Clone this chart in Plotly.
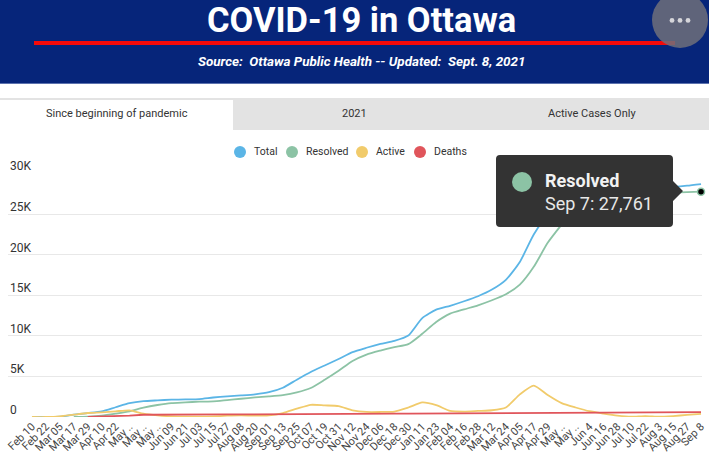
"""COVID-19 in Ottawa: cumulative cases line chart, redrawn with plotly."""
import plotly.graph_objects as go

WIDTH = 709
HEIGHT = 454

tick_labels = ['Feb 10', 'Feb 22', 'Mar 05', 'Mar 17', 'Mar 29', 'Apr 10', 'Apr 22',
               'May ..', 'May ..', 'May ..', 'Jun 09', 'Jun 21', 'Jul 03', 'Jul 15',
               'Jul 27', 'Aug 08', 'Aug 20', 'Sep 01', 'Sep 13', 'Sep 25', 'Oct 07',
               'Oct 19', 'Oct 31', 'Nov 12', 'Nov 24', 'Dec 06', 'Dec 18', 'Dec 30',
               'Jan 11', 'Jan 23', 'Feb 04', 'Feb 16', 'Feb 28', 'Mar 12', 'Mar 24',
               'Apr 05', 'Apr 17', 'Apr 29', 'May ..', 'May ..', 'Jun 4', 'Jun 16',
               'Jun 28', 'Jul 10', 'Jul 22', 'Aug 3', 'Aug 15', 'Aug 27', 'Sep 8']

total = [0, 0, 40, 290, 490, 700, 1200, 1700, 1950, 2050, 2130, 2170, 2210, 2400, 2540,
         2660, 2800, 3050, 3600, 4600, 5550, 6350, 7150, 8000, 8530, 9000, 9380, 10040,
         12190, 13220, 13700, 14260, 14880, 15700, 16900, 19100, 22480, 24900, 26300,
         27200, 27650, 27850, 27950, 28050, 28150, 28250, 28350, 28500, 28700]
resolved = [None, None, None, 0, 40, 160, 410, 700, 1150, 1480, 1720, 1800, 1890, 1930,
            2090, 2250, 2420, 2540, 2700, 3030, 3570, 4590, 5700, 6900, 7690, 8180, 8600,
            8970, 10250, 11700, 12730, 13260, 13760, 14380, 15120, 16300, 18500, 21460,
            23700, 25800, 26900, 27200, 27350, 27450, 27520, 27580, 27640, 27700, 27761]
active = [0, 0, 80, 290, 490, 570, 700, 820, 410, 200, 80, 40, 40, 80, 160, 200, 160, 200,
          490, 1020, 1500, 1430, 1350, 830, 620, 620, 670, 1170, 1790, 1460, 750, 670, 750,
          830, 1170, 2790, 3875, 2710, 1710, 1170, 710, 420, 170, 40, 120, 40, 120, 250, 375]
deaths = [None, None, None, None, 0, 40, 120, 180, 280, 300, 300, 310, 310, 310, 320, 320,
          320, 330, 330, 330, 340, 340, 350, 390, 400, 410, 410, 420, 430, 440, 450, 470,
          480, 490, 500, 500, 510, 540, 580, 580, 590, 590, 590, 590, 590, 590, 590, 590, 590]

series_names = ['Total', 'Resolved', 'Active', 'Deaths']
series_colors = ['#5BB5E6', '#8CC3A5', '#F1CB6B', '#E0555B']
series_values = [total, resolved, active, deaths]
y_ticks = [0, 5000, 10000, 15000, 20000, 25000, 30000]
y_tick_labels = ['0', '5K', '10K', '15K', '20K', '25K', '30K']
tab_labels = ['Since beginning of pandemic', '2021', 'Active Cases Only']


def px_x(x):
    return x / WIDTH


def px_y(y):
    return 1 - y / HEIGHT


def box(x0, y0, x1, y1, color, kind='rect'):
    """A shape given in page pixels, measured from the top left"""
    return dict(type=kind, xref='paper', yref='paper', x0=px_x(x0), x1=px_x(x1),
                y0=px_y(y0), y1=px_y(y1), fillcolor=color, line_width=0, layer='above')


def label(x, y, text, size, color='#333333', anchor='center', family='Roboto'):
    return dict(xref='paper', yref='paper', x=px_x(x), y=px_y(y), text=text, showarrow=False,
                xanchor=anchor, yanchor='middle', font=dict(family=family, size=size, color=color))


def tooltip_path(x0, y0, x1, y1, r, tip_x, tip_y):
    points = [(x0 + r, y0), (x1 - r, y0), ('Q', x1, y0, x1, y0 + r), (x1, tip_y - 10),
              (tip_x, tip_y), (x1, tip_y + 10), (x1, y1 - r), ('Q', x1, y1, x1 - r, y1),
              (x0 + r, y1), ('Q', x0, y1, x0, y1 - r), (x0, y0 + r), ('Q', x0, y0, x0 + r, y0)]
    path = ''
    for i, p in enumerate(points):
        if p[0] == 'Q':
            path += f'Q {px_x(p[1])} {px_y(p[2])} {px_x(p[3])} {px_y(p[4])} '
        else:
            path += ('M ' if i == 0 else 'L ') + f'{px_x(p[0])} {px_y(p[1])} '
    return path + 'Z'


fig = go.Figure()
x_index = list(range(len(tick_labels)))

# draw order in the original: deaths end up on top of the active line
for name, color, values in zip(series_names, series_colors, series_values):
    fig.add_trace(go.Scatter(x=x_index, y=values, name=name, mode='lines', showlegend=False,
                             line=dict(color=color, width=1.8,
                                       shape='linear' if name == 'Deaths' else 'spline',
                                       smoothing=0.6)))

# hovered point
fig.add_trace(go.Scatter(x=[x_index[-1]], y=[resolved[-1]], mode='markers', showlegend=False,
                         cliponaxis=False,
                         marker=dict(color='black', size=7,
                                     line=dict(color=series_colors[1], width=1.5))))

shapes = [
    box(0, 0, WIDTH, 83, '#06257A'),
    box(0, 83, WIDTH, 84, '#5C72AE'),
    box(34, 41, 675, 45, '#F50A0A'),
    box(652, -8, 708, 48, 'rgba(112,112,122,0.85)', 'circle'),
    box(0, 98, WIDTH, 130, '#E3E3E3'),
    box(0, 100, 233, 130, '#FFFFFF'),
]
annotations = [
    label(361, 20, '<b>COVID-19 in Ottawa</b>', 34.5, 'white'),
    label(361, 62, '<b><i>Source:  Ottawa Public Health -- Updated:  Sept. 8, 2021</i></b>', 13.4, 'white'),
    label(117, 114, tab_labels[0], 11),
    label(354, 114, tab_labels[1], 11),
    label(592, 114, tab_labels[2], 11),
]

# the three dots of the menu button
for cx in [672, 680, 688]:
    shapes.append(box(cx - 2.4, 18, cx + 2.4, 22.8, '#D5D5DA', 'circle'))

# legend row, circle then name
legend_circles = [240, 292, 362, 420]
for name, color, cx in zip(series_names, series_colors, legend_circles):
    shapes.append(box(cx - 6, 146, cx + 6, 158, color, 'circle'))
    annotations.append(label(cx + 12, 152, name, 10.5, anchor='left'))

# y labels sit on top of their gridlines, at the left edge
for value, text in zip(y_ticks, y_tick_labels):
    annotations.append(dict(xref='paper', yref='y', x=px_x(8), y=value, yshift=7, text=text,
                            showarrow=False, xanchor='left', yanchor='middle',
                            font=dict(family='Roboto', size=12, color='#333333')))

# tooltip on the last Resolved point
shapes.append(dict(type='path', xref='paper', yref='paper', layer='above', line_width=0,
                   fillcolor='#333333', path=tooltip_path(496, 155, 673, 227, 4, 683, 191)))
shapes.append(box(512, 172, 532, 192, series_colors[1], 'circle'))
annotations.append(label(543, 180, '<b>Resolved</b>', 18, '#F2F2F2', anchor='left'))
annotations.append(label(543, 203, 'Sep 7: 27,761', 18, '#E8E8E8', anchor='left'))

fig.update_layout(
    width=WIDTH, height=HEIGHT, margin=dict(l=0, r=0, t=0, b=0),
    paper_bgcolor='white', plot_bgcolor='white', showlegend=False,
    font=dict(family='Roboto', color='#333333'),
    shapes=shapes, annotations=annotations,
    xaxis=dict(domain=[px_x(8), px_x(702)], range=[-1.72, 48.07], tickmode='array',
               tickvals=x_index, ticktext=tick_labels, tickangle=-45, showgrid=False,
               zeroline=False, showline=False, ticks='', automargin=False,
               tickfont=dict(family='Roboto', size=11, color='#444444')),
    yaxis=dict(domain=[px_y(417), px_y(173.5)], range=[0, 30000], tickmode='array',
               tickvals=y_ticks, showticklabels=False, gridcolor='#E8E8E8', gridwidth=1.2,
               zeroline=False, showline=False, ticks='', automargin=False),
)

fig.write_html("out.html", config={'displayModeBar': False},
               post_script="document.body.style.margin='0';")
